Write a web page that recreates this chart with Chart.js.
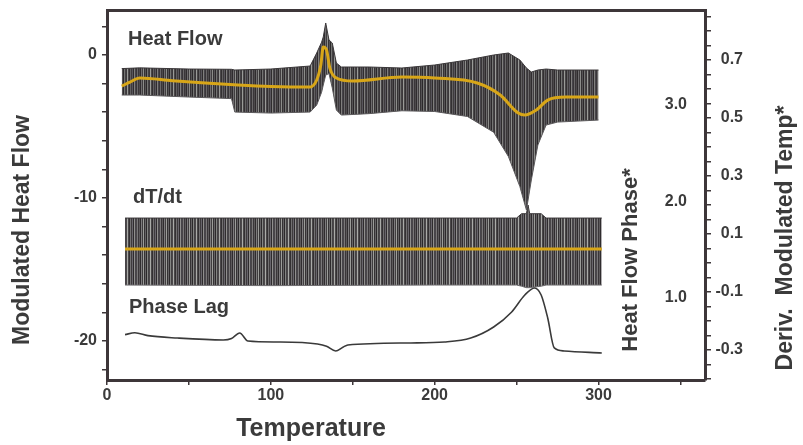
<!DOCTYPE html>
<html><head><meta charset="utf-8">
<script src="https://cdn.jsdelivr.net/npm/chart.js@4.4.1/dist/chart.umd.min.js"></script>
<style>html,body{margin:0;padding:0;background:#fff;}#wrap{width:803px;height:445px;}</style>
</head><body><div id="wrap"><canvas id="c" width="803" height="445"></canvas></div>
<script>
// ---- data ----
const hfEnvTemp = [9, 20, 50, 76, 78, 100, 124, 128, 131, 132, 133.5, 135.5, 137.5, 140, 143, 160, 180, 200, 220, 236, 245, 252, 256, 259, 263, 268, 275, 300];
const hfUpper   = [-0.95, -0.9, -0.98, -1.0, -1.05, -0.98, -0.77, 0.14, 0.9, 1.26, 2.24, 1.05, 0.84, -0.56, -0.84, -0.84, -0.91, -0.7, -0.35, 0.0, 0.14, -0.35, -0.91, -1.19, -1.05, -0.98, -1.05, -1.05];
const hfLower   = [-2.8, -2.8, -2.94, -3.05, -3.99, -4.06, -3.99, -3.5, -2.6, -2.1, -1.4, -1.3, -2.3, -3.85, -4.2, -4.1, -3.9, -3.95, -4.3, -5.4, -7.1, -9.2, -10.84, -8.74, -6.29, -4.9, -4.69, -4.55];
const hfAvgTemp = [9, 14, 20, 40, 60, 80, 100, 124, 128, 130.5, 132, 134, 136, 140, 150, 180, 200, 226, 240, 251, 255, 262, 269, 280, 300];
const hfAvg     = [-2.17, -1.9, -1.61, -1.8, -1.96, -2.1, -2.2, -2.24, -1.75, -0.7, 0.56, 0.35, -0.91, -1.61, -1.82, -1.54, -1.61, -1.96, -2.8, -4.06, -4.2, -3.85, -3.15, -2.94, -2.94];
const dtEnvTemp = [11, 100, 200, 250, 253, 256, 257, 258, 265, 268, 302];
const dtUpper   = [0.155, 0.155, 0.155, 0.155, 0.17, 0.17, 0.2, 0.17, 0.17, 0.155, 0.155];
const dtLower   = [-0.076, -0.078, -0.076, -0.076, -0.08, -0.085, -0.085, -0.085, -0.08, -0.076, -0.076];
const dtAvgTemp = [11, 302];
const dtAvg     = [0.048, 0.048];
const phaseTemp = [11, 17, 25, 43, 71, 76, 81, 86, 104, 128.5, 134, 139.6, 144, 147, 185.5, 206, 222, 236, 247, 255, 261, 265, 269, 273, 279, 302];
const phaseLag  = [0.62, 0.64, 0.61, 0.585, 0.565, 0.58, 0.637, 0.554, 0.544, 0.523, 0.5, 0.451, 0.49, 0.513, 0.534, 0.544, 0.585, 0.699, 0.855, 1.031, 1.104, 1.031, 0.793, 0.482, 0.451, 0.43];

// ---- tick labels ----
const xTickValues     = [0, 50, 100, 150, 200, 250, 300, 350];
const xTickLabels     = [0, 100, 200, 300];
const hfTickValues    = [-22, -20, -18, -16, -14, -12, -10, -8, -6, -4, -2, 0, 2];
const hfTickLabels    = [0, -10, -20];
const phaseTickValues = [1, 2, 3];
const derivTickValues = [-0.4, -0.35, -0.3, -0.25, -0.2, -0.15, -0.1, -0.05, 0, 0.05, 0.1, 0.15, 0.2, 0.25, 0.3, 0.35, 0.4, 0.45, 0.5, 0.55, 0.6, 0.65, 0.7, 0.75, 0.8, 0.85];
const derivTickLabels = [-0.3, -0.1, 0.1, 0.3, 0.5, 0.7];

// ---- styling ----
const FRAME = '#3d3639';
const INK = '#3b3b3b';
const YELLOW = '#d8a618';
const tickFont = {family: 'Liberation Sans, Arial, sans-serif', size: 16, weight: 'bold'};

function stripePattern(cols) {
  const c = document.createElement('canvas');
  c.width = cols.length; c.height = 1;
  const g = c.getContext('2d');
  cols.forEach((col, i) => { g.fillStyle = col; g.fillRect(i, 0, 1, 1); });
  return g.createPattern(c, 'repeat');
}
const bandFill = stripePattern(['#3a3639', '#4d4a4c', '#2f2c2e', '#6e6c6e', '#403d3f', '#8c8d8a', '#353234', '#555355', '#2c292b', '#747573', '#444144', '#3b383a', '#9a9b98', '#4a4749', '#333032', '#626062', '#3e3b3d', '#58555c', '#2f2c2e', '#807f7d', '#47444a', '#393638', '#6a686a']);
const bandFill2 = stripePattern(['#3a3639', '#5d5a5c', '#2f2c2e', '#7e7c7e', '#403d3f', '#9c9d9a', '#353234', '#656365', '#2c292b', '#848583', '#444144', '#4b484a', '#aaaba8', '#4a4749', '#333032', '#727072', '#3e3b3d', '#68656c', '#2f2c2e', '#908f8d', '#47444a', '#494648', '#7a787a']);

const pts = (xs, ys) => xs.map((x, i) => ({x: x, y: ys[i]}));
const has = (arr, v) => arr.some(a => Math.abs(a - v) < 1e-6);
const noVPad = s => { s.paddingTop = 0; s.paddingBottom = 0; };

const freeText = {
  id: 'freeText',
  afterDraw(chart, args, opts) {
    const ctx = chart.ctx;
    opts.items.forEach(it => {
      ctx.save();
      ctx.font = it.font;
      ctx.fillStyle = it.color || INK;
      ctx.textAlign = it.align || 'center';
      ctx.textBaseline = it.baseline || 'middle';
      ctx.translate(it.x, it.y);
      if (it.rot) ctx.rotate(it.rot);
      ctx.fillText(it.text, 0, 0);
      ctx.restore();
    });
  }
};

const TF = 'bold 23px "Liberation Sans", Arial, sans-serif';
const AF = 'bold 20px "Liberation Sans", Arial, sans-serif';

new Chart(document.getElementById('c'), {
  type: 'line',
  data: {
    datasets: [
      {label: 'Heat Flow upper', data: pts(hfEnvTemp, hfUpper), yAxisID: 'y', borderColor: '#3a3739', borderWidth: 1, pointRadius: 0, fill: false, order: 3},
      {label: 'Heat Flow lower', data: pts(hfEnvTemp, hfLower), yAxisID: 'y', borderColor: '#5a585a', borderWidth: 1, pointRadius: 0, fill: '-1', backgroundColor: bandFill, order: 3},
      {label: 'Heat Flow', data: pts(hfAvgTemp, hfAvg), yAxisID: 'y', borderColor: YELLOW, borderWidth: 3, pointRadius: 0, fill: false, cubicInterpolationMode: 'monotone', order: 0},
      {label: 'dT/dt upper', data: pts(dtEnvTemp, dtUpper), yAxisID: 'yDeriv', borderColor: '#3a3739', borderWidth: 1, pointRadius: 0, fill: false, order: 4},
      {label: 'dT/dt lower', data: pts(dtEnvTemp, dtLower), yAxisID: 'yDeriv', borderColor: '#6f6d70', borderWidth: 1, pointRadius: 0, fill: '-1', backgroundColor: bandFill2, order: 4},
      {label: 'dT/dt', data: pts(dtAvgTemp, dtAvg), yAxisID: 'yDeriv', borderColor: YELLOW, borderWidth: 3, pointRadius: 0, fill: false, order: 0},
      {label: 'Phase Lag', data: pts(phaseTemp, phaseLag), yAxisID: 'yPhase', borderColor: '#3a3a3a', borderWidth: 1.6, pointRadius: 0, fill: false, cubicInterpolationMode: 'monotone', order: 1}
    ]
  },
  options: {
    responsive: false,
    animation: false,
    devicePixelRatio: 1,
    layout: {padding: {left: 0, right: 60, top: 10, bottom: 0}},
    plugins: {
      legend: {display: false},
      tooltip: {enabled: false},
      freeText: {items: [
        {text: 'Heat Flow', x: 128, y: 45, font: AF, align: 'left', baseline: 'alphabetic'},
        {text: 'dT/dt', x: 133, y: 203, font: AF, align: 'left', baseline: 'alphabetic'},
        {text: 'Phase Lag', x: 129, y: 313, font: AF, align: 'left', baseline: 'alphabetic'},
        {text: 'Modulated Heat Flow', x: 23, y: 230, font: TF, rot: -Math.PI / 2},
        {text: 'Temperature', x: 311, y: 429, font: 'bold 25px "Liberation Sans", Arial, sans-serif'},
        {text: 'Heat Flow Phase*', x: 631, y: 260, font: 'bold 22px "Liberation Sans", Arial, sans-serif', rot: -Math.PI / 2},
        {text: 'Deriv.  Modulated Temp*', x: 786, y: 238, font: TF, rot: -Math.PI / 2}
      ]}
    },
    scales: {
      x: {
        type: 'linear', position: 'bottom', min: 0, max: 365,
        afterBuildTicks: s => { s.ticks = xTickValues.map(v => ({value: v})); },
        afterFit: s => { s.height = 65; },
        ticks: {autoSkip: false, maxRotation: 0, padding: 1, color: INK, font: tickFont,
          callback: v => has(xTickLabels, v) ? String(v) : ''},
        grid: {display: true, drawOnChartArea: false, tickLength: 5, color: FRAME, lineWidth: 1.5},
        border: {display: true, color: FRAME, width: 3}
      },
      xTop: {
        type: 'linear', position: 'top', min: 0, max: 365,
        afterFit: s => { s.height = 0; },
        ticks: {display: false}, grid: {display: false},
        border: {display: true, color: FRAME, width: 3}
      },
      y: {
        type: 'linear', position: 'left', min: -22.727, max: 3.147,
        afterBuildTicks: s => { s.ticks = hfTickValues.map(v => ({value: v})); },
        afterFit: s => { s.width = 107; noVPad(s); },
        ticks: {autoSkip: false, padding: 5, color: INK, font: tickFont,
          callback: v => has(hfTickLabels, v) ? String(v) : ''},
        grid: {display: true, drawOnChartArea: false, tickLength: 5, color: FRAME, lineWidth: 1.5},
        border: {display: true, color: FRAME, width: 3}
      },
      yPhase: {
        type: 'linear', position: 'right', weight: 0, min: 0.15, max: 3.984,
        afterBuildTicks: s => { s.ticks = phaseTickValues.map(v => ({value: v})); },
        afterFit: s => { s.width = 0; noVPad(s); },
        ticks: {autoSkip: false, mirror: true, padding: -18, color: INK, font: tickFont,
          callback: v => v.toFixed(1)},
        grid: {display: false},
        border: {display: false}
      },
      yDeriv: {
        type: 'linear', position: 'right', weight: 1, min: -0.4034, max: 0.8724,
        afterBuildTicks: s => { s.ticks = derivTickValues.map(v => ({value: v})); },
        afterFit: s => { s.width = 38; noVPad(s); },
        ticks: {autoSkip: false, padding: 3, crossAlign: 'far', color: INK, font: tickFont,
          callback: v => has(derivTickLabels, v) ? v.toFixed(1) : ''},
        grid: {display: true, drawOnChartArea: false, tickLength: 6, color: FRAME, lineWidth: 1.5},
        border: {display: true, color: FRAME, width: 3}
      }
    }
  },
  plugins: [freeText]
});
</script></body></html>
